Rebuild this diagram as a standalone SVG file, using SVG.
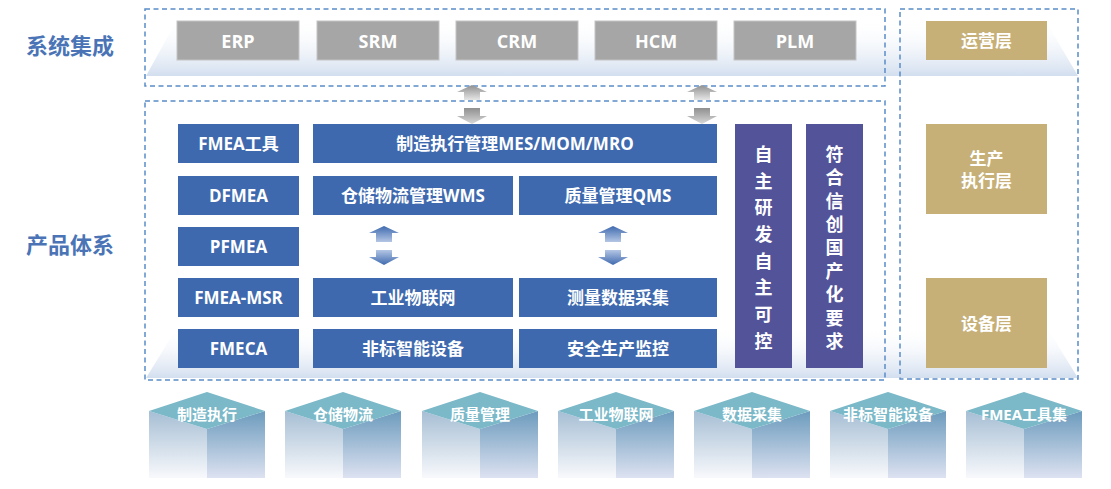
<svg xmlns="http://www.w3.org/2000/svg" width="1111" height="489" viewBox="0 0 1111 489">
<defs>
<linearGradient id="band" x1="0" y1="0" x2="0" y2="1">
<stop offset="0" stop-color="#ffffff" stop-opacity="0"/>
<stop offset="1" stop-color="#d2deef"/>
</linearGradient>
<linearGradient id="blueUp" x1="0" y1="0" x2="0" y2="1">
<stop offset="0" stop-color="#3f6aaf"/>
<stop offset="1" stop-color="#b4c6e4"/>
</linearGradient>
<linearGradient id="blueDown" x1="0" y1="0" x2="0" y2="1">
<stop offset="0" stop-color="#b4c6e4"/>
<stop offset="1" stop-color="#3f6aaf"/>
</linearGradient>
<linearGradient id="grayUp" x1="0" y1="0" x2="0" y2="1">
<stop offset="0" stop-color="#8f8f8f"/>
<stop offset="1" stop-color="#e6e6e6"/>
</linearGradient>
<linearGradient id="grayDown" x1="0" y1="0" x2="0" y2="1">
<stop offset="0" stop-color="#8f8f8f"/>
<stop offset="1" stop-color="#d8d8d8"/>
</linearGradient>
<linearGradient id="cubeL" x1="0" y1="0" x2="0" y2="1">
<stop offset="0" stop-color="#a6bed4"/>
<stop offset="1" stop-color="#f8f9fc"/>
</linearGradient>
<linearGradient id="cubeR" x1="0" y1="0" x2="0" y2="1">
<stop offset="0" stop-color="#6c9bbd"/>
<stop offset="1" stop-color="#dde2f1"/>
</linearGradient>
</defs>
<style>
.dash{fill:none;stroke:#5a8cc8;stroke-width:1.5;stroke-dasharray:5 3.5}
.gray{fill:#a6a6a6;stroke:#c4c4c4;stroke-width:1}
.blue{fill:#3e69ae}
.purple{fill:#53539a}
.gold{fill:#c6b077}
.t{font-family:"Open Sans","Noto Sans CJK SC",sans-serif;font-weight:700;fill:#ffffff;text-anchor:middle;dominant-baseline:central}
.t17{font-size:17px}
.t18{font-size:18px}
.tv{font-family:"Noto Sans CJK SC",sans-serif;font-weight:700;fill:#ffffff;text-anchor:start;dominant-baseline:central;font-size:18px;writing-mode:vertical-rl;glyph-orientation-vertical:0}
.tc{font-size:15px}
.side{font-family:"Noto Sans CJK SC",sans-serif;font-weight:700;fill:#4a74b6;text-anchor:middle;dominant-baseline:central;font-size:22px}
.top{fill:#7bb8c8}
.cl{fill:url(#cubeL)}
.cr{fill:url(#cubeR)}
</style>

<g id="backgrounds">
<polygon points="178,18 1044,18 1078,76 146,76" fill="url(#band)"/>
<polygon points="178,326 1046,326 1078,378 146,378" fill="url(#band)"/>
</g>

<g id="frames">
<rect class="dash" x="145" y="9" width="740" height="77"/>
<rect class="dash" x="145" y="101" width="740" height="279"/>
<rect class="dash" x="900" y="9" width="178" height="370"/>
</g>

<g id="labels">
<text class="side" x="70" y="44">系统集成</text>
<text class="side" x="70" y="243">产品体系</text>
</g>

<g id="erp"><rect class="gray" x="177" y="21" width="122" height="39"/><text class="t t18" x="238" y="40.5">ERP</text></g>
<g id="srm"><rect class="gray" x="317" y="21" width="122" height="39"/><text class="t t18" x="378" y="40.5">SRM</text></g>
<g id="crm"><rect class="gray" x="456" y="21" width="122" height="39"/><text class="t t18" x="517" y="40.5">CRM</text></g>
<g id="hcm"><rect class="gray" x="595" y="21" width="122" height="39"/><text class="t t18" x="656" y="40.5">HCM</text></g>
<g id="plm"><rect class="gray" x="734" y="21" width="122" height="39"/><text class="t t18" x="795" y="40.5">PLM</text></g>

<g id="op-layer"><rect class="gold" x="926" y="21" width="121" height="39"/><text class="t t17" x="986.5" y="40.5">运营层</text></g>
<g id="prod-layer"><rect class="gold" x="926" y="124" width="121" height="90"/><text class="t t17" x="986.5" y="158">生产</text><text class="t t17" x="986.5" y="180">执行层</text></g>
<g id="dev-layer"><rect class="gold" x="926" y="278" width="121" height="90"/><text class="t t17" x="986.5" y="323">设备层</text></g>

<g id="fmea-tool"><rect class="blue" x="178" y="124" width="121" height="39"/><text class="t t17" x="238.5" y="143.5">FMEA工具</text></g>
<g id="dfmea"><rect class="blue" x="178" y="176" width="121" height="39"/><text class="t t17" x="238.5" y="195.5">DFMEA</text></g>
<g id="pfmea"><rect class="blue" x="178" y="227" width="121" height="39"/><text class="t t17" x="238.5" y="246.5">PFMEA</text></g>
<g id="fmea-msr"><rect class="blue" x="178" y="278" width="121" height="39"/><text class="t t17" x="238.5" y="297.5">FMEA-MSR</text></g>
<g id="fmeca"><rect class="blue" x="178" y="329" width="121" height="39"/><text class="t t17" x="238.5" y="348.5">FMECA</text></g>

<g id="mes"><rect class="blue" x="313" y="124" width="404" height="39"/><text class="t t17" x="515" y="143.5">制造执行管理MES/MOM/MRO</text></g>
<g id="wms"><rect class="blue" x="313" y="176" width="200" height="39"/><text class="t t17" x="413" y="195.5">仓储物流管理WMS</text></g>
<g id="qms"><rect class="blue" x="519" y="176" width="198" height="39"/><text class="t t17" x="618" y="195.5">质量管理QMS</text></g>
<g id="iiot"><rect class="blue" x="313" y="278" width="200" height="39"/><text class="t t17" x="413" y="297.5">工业物联网</text></g>
<g id="measure"><rect class="blue" x="519" y="278" width="198" height="39"/><text class="t t17" x="618" y="297.5">测量数据采集</text></g>
<g id="device"><rect class="blue" x="313" y="329" width="200" height="39"/><text class="t t17" x="413" y="348.5">非标智能设备</text></g>
<g id="safety"><rect class="blue" x="519" y="329" width="198" height="39"/><text class="t t17" x="618" y="348.5">安全生产监控</text></g>

<g id="self-dev"><rect class="purple" x="735" y="124" width="57" height="244"/>
<text class="tv" x="763.5" y="145" letter-spacing="8.7">自主研发自主可控</text></g>
<g id="xinchuang"><rect class="purple" x="806" y="124" width="57" height="244"/>
<text class="tv" x="834.5" y="145" letter-spacing="5.4">符合信创国产化要求</text></g>

<g id="connectors">
<polygon fill="url(#grayUp)" points="472,85 487,92 480,92 480,100 464,100 464,92 457,92"/>
<polygon fill="url(#grayDown)" points="464,108 480,108 480,116 487,116 472,124 457,116 464,116"/>
<polygon fill="url(#grayUp)" points="702,85 717,92 710,92 710,100 694,100 694,92 687,92"/>
<polygon fill="url(#grayDown)" points="694,108 710,108 710,116 717,116 702,124 687,116 694,116"/>
<polygon fill="url(#blueUp)" points="384,226 399,233 392,233 392,242 376,242 376,233 369,233"/>
<polygon fill="url(#blueDown)" points="376,250 392,250 392,257 399,257 384,265 369,257 376,257"/>
<polygon fill="url(#blueUp)" points="613,226 628,233 621,233 621,242 605,242 605,233 598,233"/>
<polygon fill="url(#blueDown)" points="605,250 621,250 621,257 628,257 613,265 598,257 605,257"/>
</g>

<g id="cube-1"><polygon class="cl" points="149,411 207,429 207,478 149,478"/><polygon class="cr" points="207,429 265,411 265,478 207,478"/><polygon class="top" points="149,411 207,392 265,411 207,429"/><text class="t tc" x="207" y="414">制造执行</text></g>
<g id="cube-2"><polygon class="cl" points="285,411 343,429 343,478 285,478"/><polygon class="cr" points="343,429 401,411 401,478 343,478"/><polygon class="top" points="285,411 343,392 401,411 343,429"/><text class="t tc" x="343" y="414">仓储物流</text></g>
<g id="cube-3"><polygon class="cl" points="422,411 480,429 480,478 422,478"/><polygon class="cr" points="480,429 538,411 538,478 480,478"/><polygon class="top" points="422,411 480,392 538,411 480,429"/><text class="t tc" x="480" y="414">质量管理</text></g>
<g id="cube-4"><polygon class="cl" points="558,411 616,429 616,478 558,478"/><polygon class="cr" points="616,429 674,411 674,478 616,478"/><polygon class="top" points="558,411 616,392 674,411 616,429"/><text class="t tc" x="616" y="414">工业物联网</text></g>
<g id="cube-5"><polygon class="cl" points="694,411 752,429 752,478 694,478"/><polygon class="cr" points="752,429 810,411 810,478 752,478"/><polygon class="top" points="694,411 752,392 810,411 752,429"/><text class="t tc" x="752" y="414">数据采集</text></g>
<g id="cube-6"><polygon class="cl" points="830,411 888,429 888,478 830,478"/><polygon class="cr" points="888,429 946,411 946,478 888,478"/><polygon class="top" points="830,411 888,392 946,411 888,429"/><text class="t tc" x="888" y="414">非标智能设备</text></g>
<g id="cube-7"><polygon class="cl" points="966,411 1024,429 1024,478 966,478"/><polygon class="cr" points="1024,429 1082,411 1082,478 1024,478"/><polygon class="top" points="966,411 1024,392 1082,411 1024,429"/><text class="t tc" x="1024" y="414">FMEA工具集</text></g>
</svg>
